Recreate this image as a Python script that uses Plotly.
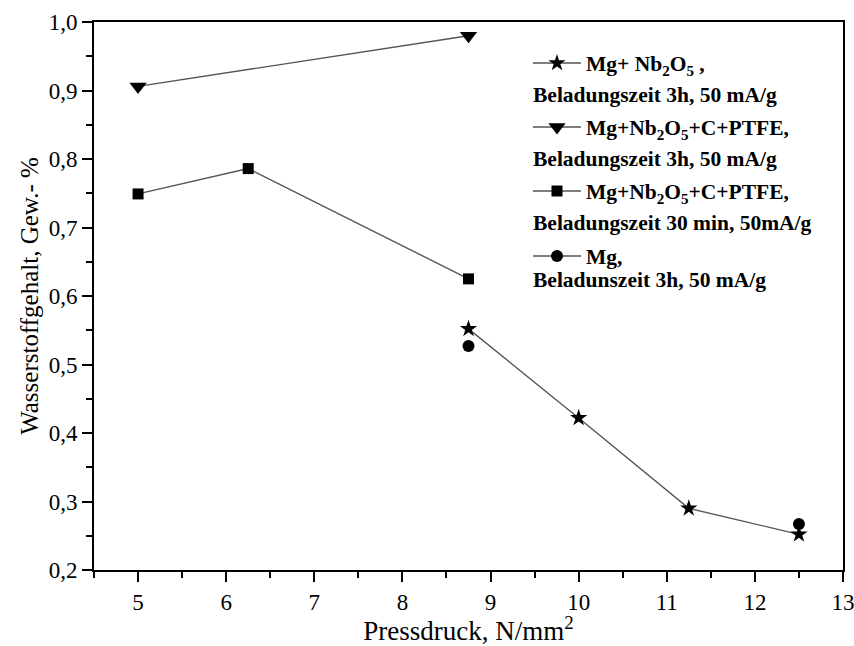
import plotly.graph_objects as go

# Pressdruck in N/mm^2 and Wasserstoffgehalt in Gew.-%
x_nb2o5 = [8.75, 10.0, 11.25, 12.5]
y_nb2o5 = [0.552, 0.422, 0.290, 0.252]

x_ptfe_3h = [5.0, 8.75]
y_ptfe_3h = [0.906, 0.980]

x_ptfe_30min = [5.0, 6.25, 8.75]
y_ptfe_30min = [0.749, 0.786, 0.625]

x_mg = [8.75, 12.5]
y_mg = [0.527, 0.267]

names = [
    "<b>Mg+ Nb<sub>2</sub>O<sub>5</sub> ,</b>",
    "<b>Mg+Nb<sub>2</sub>O<sub>5</sub>+C+PTFE,</b>",
    "<b>Mg+Nb<sub>2</sub>O<sub>5</sub>+C+PTFE,</b>",
    "<b>Mg,</b>",
]
second_lines = [
    "Beladungszeit 3h, 50 mA/g",
    "Beladungszeit 3h, 50 mA/g",
    "Beladungszeit 30 min, 50mA/g",
    "Beladunszeit 3h, 50 mA/g",
]

x_ticks = list(range(5, 14))
y_ticks = [0.2, 0.3, 0.4, 0.5, 0.6, 0.7, 0.8, 0.9, 1.0]

FONT = "Liberation Serif"
LINE_COLOR = "#555555"
LEGEND_SIZE = 21.5

# plot area in pixels
W, H = 854, 646
L, R, T, B = 94, 11, 22, 76
plot_w = W - L - R
plot_h = H - T - B


def px_to_paper_x(px):
    return (px - L) / plot_w


def px_to_paper_y(py):
    return 1 - (py - T) / plot_h


def with_gaps(xs, ys):
    """Insert None between points so the markers stay unconnected."""
    gx, gy = [], []
    for i, (a, b) in enumerate(zip(xs, ys)):
        if i:
            gx.append(None)
            gy.append(None)
        gx.append(a)
        gy.append(b)
    return gx, gy


mg_gx, mg_gy = with_gaps(x_mg, y_mg)

series = [
    (x_nb2o5, y_nb2o5, "star", 13),
    (x_ptfe_3h, y_ptfe_3h, "triangle-down", 15),
    (x_ptfe_30min, y_ptfe_30min, "square", 11),
    (mg_gx, mg_gy, "circle", 12),
]

legend_ids = ["legend", "legend2", "legend3", "legend4"]

fig = go.Figure()
for (xs, ys, sym, size), name, lid in zip(series, names, legend_ids):
    fig.add_trace(go.Scatter(
        x=xs, y=ys, name=name, mode="lines+markers",
        connectgaps=False,
        line=dict(color=LINE_COLOR, width=1.4),
        marker=dict(symbol=sym, size=size, color="black",
                    line=dict(width=0)),
        legend=lid,
    ))

# legend rows (pixel centres): symbol rows and their second lines
row_px = [63, 95, 127, 159, 191, 223, 256, 280]
legend_left_px = 528
text_left_px = 531

layout_legends = {}
for i, lid in enumerate(legend_ids):
    layout_legends[lid] = dict(
        x=px_to_paper_x(legend_left_px),
        y=px_to_paper_y(row_px[2 * i]),
        xanchor="left", yanchor="middle",
        bgcolor="rgba(0,0,0,0)",
        font=dict(family=FONT, size=LEGEND_SIZE, color="black"),
        itemwidth=48,
    )

annotations = []
for i, txt in enumerate(second_lines):
    annotations.append(dict(
        x=px_to_paper_x(text_left_px), y=px_to_paper_y(row_px[2 * i + 1]),
        xref="paper", yref="paper", xanchor="left", yanchor="middle",
        text="<b>" + txt + "</b>", showarrow=False,
        font=dict(family=FONT, size=LEGEND_SIZE, color="black"),
    ))

axis_common = dict(
    showline=True, linecolor="black", linewidth=2, mirror=True,
    ticks="outside", ticklen=10, tickwidth=2, tickcolor="black",
    showgrid=False, zeroline=False, automargin=False,
    ticklabeloverflow="allow",
    tickfont=dict(family=FONT, size=23, color="black"),
)

fig.update_layout(
    width=W, height=H,
    margin=dict(l=L, r=R, t=T, b=B),
    paper_bgcolor="white", plot_bgcolor="white",
    separators=", ",
    showlegend=True,
    annotations=annotations,
    xaxis=dict(
        **axis_common,
        range=[4.5, 13], tickvals=x_ticks,
        minor=dict(dtick=0.5, ticks="outside", ticklen=6, tickwidth=2,
                   tickcolor="black"),
        title=dict(text="Pressdruck, N/mm<sup>2</sup>",
                   font=dict(family=FONT, size=27, color="black"),
                   standoff=4),
    ),
    yaxis=dict(
        **axis_common,
        range=[0.2, 1.0], tickvals=y_ticks, tickformat=".1f",
        minor=dict(dtick=0.05, ticks="outside", ticklen=6, tickwidth=2,
                   tickcolor="black"),
        title=dict(text="Wasserstoffgehalt, Gew.- %",
                   font=dict(family=FONT, size=25, color="black"),
                   standoff=3),
    ),
    **layout_legends,
)

fig.write_html("out.html")
